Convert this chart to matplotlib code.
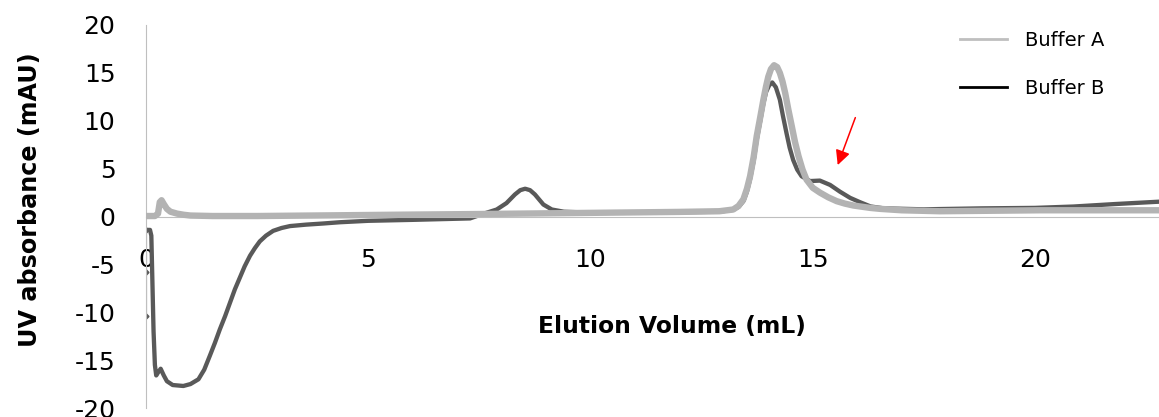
import matplotlib.pyplot as plt
from matplotlib.lines import Line2D

plt.rcParams['font.family'] = ['DejaVu Sans']
plt.rcParams['axes.unicode_minus'] = False

# Buffer A trace (light gray)
vol_a = [0, 0.2, 0.27, 0.31, 0.35, 0.4, 0.47, 0.55, 0.7, 0.85, 1.0, 1.5, 2.5, 4.4,
         6.0, 7.3, 9.0, 10.0, 12.0, 12.9, 13.21, 13.33, 13.44, 13.52, 13.59, 13.67,
         13.74, 13.82, 13.89, 13.95, 14.0, 14.06, 14.13, 14.2, 14.26, 14.32, 14.38,
         14.45, 14.53, 14.6, 14.68, 14.77, 14.86, 15.0, 15.16, 15.35, 15.54, 15.72,
         15.91, 16.29, 16.51, 17.0, 17.86, 19.0, 20.1, 23.0]
abs_a = [0.05, 0.05, 0.3, 1.5, 1.7, 1.3, 0.8, 0.5, 0.3, 0.18, 0.1, 0.05, 0.05, 0.13,
         0.2, 0.25, 0.33, 0.38, 0.48, 0.55, 0.73, 1.1, 1.8, 2.9, 4.2, 6.2,
         8.4, 10.4, 12.2, 13.6, 14.6, 15.4, 15.8, 15.6, 15.0, 14.1, 12.9,
         11.2, 9.4, 7.8, 6.3, 4.9, 3.85, 3.0, 2.5, 2.0, 1.6, 1.35,
         1.15, 0.9, 0.8, 0.65, 0.55, 0.6, 0.65, 0.65]

# Buffer B trace (dark gray)
vol_b = [0, 0.09, 0.12, 0.14, 0.17, 0.2, 0.23, 0.27, 0.33, 0.4, 0.47, 0.6, 0.84,
         1.0, 1.18, 1.31, 1.44, 1.55, 1.66, 1.78, 1.89, 2.0, 2.11, 2.22, 2.34, 2.45,
         2.56, 2.7, 2.86, 3.05, 3.24, 3.6, 3.99, 4.36, 5.0, 6.0, 7.29, 7.6, 7.89,
         8.11, 8.3, 8.42, 8.53, 8.64, 8.75, 8.94, 9.13, 9.4, 10.0, 12.0, 12.9, 13.21,
         13.33, 13.44, 13.52, 13.59, 13.67, 13.74, 13.82, 13.89, 13.95, 14.02, 14.09,
         14.17, 14.26, 14.33, 14.41, 14.48, 14.56, 14.65, 14.75, 14.94, 15.16, 15.39,
         15.61, 15.84, 16.06, 16.3, 16.6, 17.5, 18.8, 20.0, 20.86, 21.8, 23.0]
abs_b = [-1.4, -1.4, -2.0, -6.0, -12.0, -15.5, -16.6, -16.3, -15.9, -16.6, -17.2,
         -17.6, -17.7, -17.5, -17.0, -16.0, -14.5, -13.2, -11.8, -10.4, -9.0, -7.6,
         -6.4, -5.2, -4.1, -3.3, -2.6, -2.0, -1.5, -1.2, -1.0, -0.85, -0.73, -0.6,
         -0.45, -0.35, -0.2, 0.3, 0.73, 1.4, 2.3, 2.75, 2.9, 2.75, 2.3, 1.25, 0.73,
         0.5, 0.4, 0.45, 0.5, 0.7, 1.0, 1.6, 2.6, 3.9, 5.8, 8.0, 10.0, 11.8, 13.0,
         13.7, 14.0, 13.5, 12.2, 10.5, 8.7, 7.2, 5.9, 4.9, 4.2, 3.7, 3.75, 3.3, 2.6,
         1.95, 1.5, 1.05, 0.85, 0.75, 0.85, 0.9, 1.04, 1.3, 1.6]

# first few Buffer B readings at 0 mL (drawn as small markers)
vol_b_start = [0, 0, 0]
abs_b_start = [-1.4, -5.8, -10.4]

x_ticks = [0, 5, 10, 15, 20]
y_ticks = [-20, -15, -10, -5, 0, 5, 10, 15, 20]

# arrow pointing at the Buffer B shoulder
arrow_tail = (15.98, 10.6)
arrow_head = (15.54, 5.1)

fig = plt.figure(figsize=(11.59, 4.17), dpi=100)
ax = fig.add_axes([146 / 1159, 1 - 408 / 417, 1 - 146 / 1159, 383 / 417])

ax.plot(vol_b_start, abs_b_start, color='#595959', lw=0.8, marker='D', ms=2.5, zorder=2)
ax.plot(vol_b, abs_b, color='#595959', lw=3.1, solid_capstyle='round',
        solid_joinstyle='round', zorder=2)
ax.plot(vol_a, abs_a, color='#B3B3B3', lw=4.6, solid_capstyle='round',
        solid_joinstyle='round', zorder=3)

ax.set_xlim(0, 22.79)
ax.set_ylim(-20, 20)
ax.set_xticks(x_ticks)
ax.set_yticks(y_ticks)
ax.tick_params(axis='both', length=0, labelsize=18)
ax.tick_params(axis='x', pad=23)
ax.tick_params(axis='y', pad=22)

for s in ['top', 'right']:
    ax.spines[s].set_visible(False)
ax.spines['bottom'].set_position(('data', 0))
ax.spines['bottom'].set_color('#BFBFBF')
ax.spines['left'].set_color('#BFBFBF')

ax.set_xlabel('Elution Volume (mL)', fontsize=16.8, fontweight='bold', va='center')
ax.xaxis.set_label_coords(0.519, 0.2115)
ax.set_ylabel('UV absorbance (mAU)', fontsize=17.2, fontweight='bold', va='center')
ax.yaxis.set_label_coords(-0.1145, 0.543)

ax.annotate('', xy=arrow_head, xytext=arrow_tail,
            arrowprops=dict(arrowstyle='-|>', color='red', lw=1.1, mutation_scale=22))

handles = [Line2D([], [], color='#BFBFBF', lw=2),
           Line2D([], [], color='black', lw=2)]
fig.legend(handles, ['Buffer A', 'Buffer B'], loc='upper left',
           bbox_to_anchor=(960 / 1159, 1 - 31 / 417), frameon=False,
           fontsize=14, labelspacing=1.47, handlelength=2.42, handletextpad=0.93,
           borderpad=0, borderaxespad=0)

fig.savefig('out.png', dpi=100)
